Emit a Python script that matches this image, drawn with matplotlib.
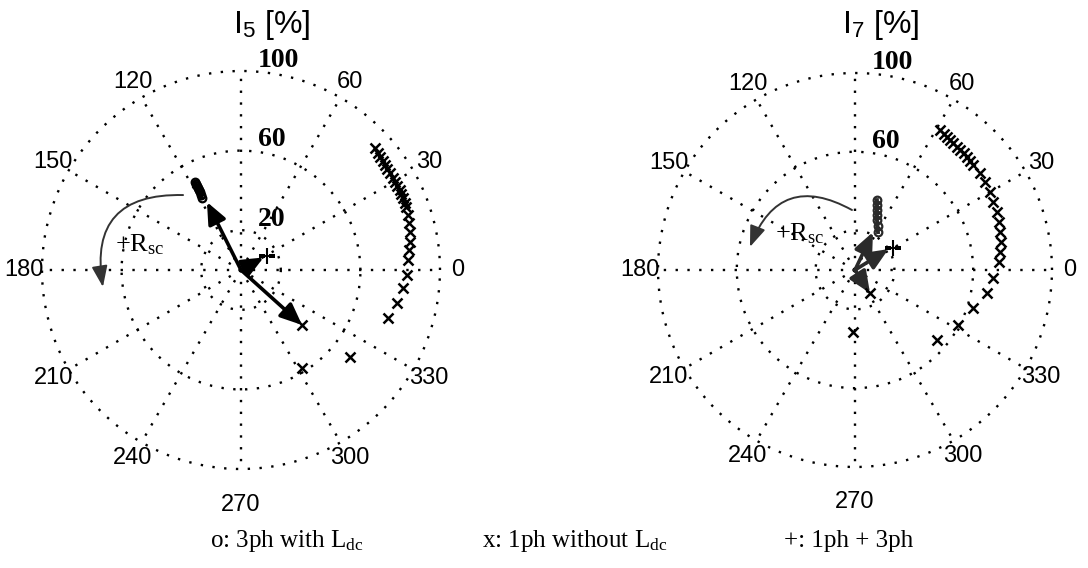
import numpy as np
import matplotlib

matplotlib.use("Agg")
import matplotlib.pyplot as plt

plt.rcParams["mathtext.fontset"] = "custom"
plt.rcParams["mathtext.rm"] = "Liberation Serif"
plt.rcParams["mathtext.sf"] = "Liberation Sans"
plt.rcParams["mathtext.it"] = "Liberation Serif:italic"

# angles in degrees, magnitudes in %
ANGLE_TICKS = [0, 30, 60, 120, 150, 180, 210, 240, 270, 300, 330]
RADIAL_TICKS = [20, 60, 100]

# ---- I5 ----
i5_x_theta = [42.3, 40.6, 39.1, 37.6, 36.1, 34.6, 33.1, 31.4, 29.7, 28.2, 26.7, 25.3, 24.0,
              22.4, 20.9, 18.2, 15.6, 12.7, 9.4, 6.8, 3.4, -1.7, -6.3, -11.9, -18.1, -38.6, -58.1]
i5_x_r = [91.1, 90.5, 90.0, 89.8, 89.6, 89.4, 89.3, 89.2, 89.1, 89.2, 89.4, 89.2, 89.1,
          88.9, 88.7, 88.3, 87.7, 87.0, 86.1, 85.0, 84.1, 83.4, 81.9, 80.1, 77.7, 70.1, 58.0]
i5_o_theta = [117.6, 117.7, 117.8, 117.9, 118.0, 118.1, 118.2, 118.4]
i5_o_r = [50.0, 48.8, 47.6, 46.5, 45.4, 44.2, 42.8, 41.2]
i5_ref_x = (-42.0, 41.3)    # 1ph without Ldc
i5_ref_o = (116.6, 38.2)    # 3ph with Ldc
i5_ref_plus = (28.3, 14.8)  # 1ph + 3ph

# ---- I7 ----
i7_x_theta = [58.7, 57.0, 55.3, 53.8, 52.3, 50.5, 48.8, 47.0, 45.3, 43.5, 41.7, 37.8, 34.1,
              30.0, 26.2, 22.2, 18.4, 14.7, 10.9, 7.1, 3.2, -3.3, -9.9, -17.9, -28.1, -40.5, -91.8]
i7_x_r = [83.1, 82.6, 82.1, 81.7, 81.4, 81.2, 81.0, 80.9, 80.8, 80.5, 80.2, 80.3, 79.7,
          79.1, 78.1, 77.9, 77.1, 76.1, 75.5, 74.2, 73.2, 70.2, 68.0, 62.9, 59.3, 54.7, 31.5]
i7_o_theta = [72.6, 71.3, 69.9, 68.2, 66.3, 62.8, 58.8]
i7_o_r = [37.2, 34.8, 32.4, 30.0, 27.7, 25.0, 22.5]
i7_ref_x = (-57.0, 14.0)
i7_ref_o = (64.6, 21.3)
i7_ref_plus = (30.0, 22.3)

DOTTED = (0, (1, 4))
SANS = "Liberation Sans"
SERIF = "Liberation Serif"


def rad(d):
    return np.deg2rad(d)


def setup(ax):
    ax.set_theta_zero_location("E")
    ax.set_ylim(0, 100)
    ax.set_yticks(RADIAL_TICKS)
    ax.set_xticks(rad(np.arange(0, 360, 30)))
    ax.set_xticklabels([])
    ax.set_yticklabels([])
    ax.tick_params(length=0)
    ax.grid(True, color="black", linestyle=DOTTED, linewidth=1.7)
    ax.spines["polar"].set_visible(False)
    ax.set_axisbelow(True)
    for gl in ax.yaxis.get_gridlines() + ax.xaxis.get_gridlines():
        gl.set_clip_on(False)
    for a in ANGLE_TICKS:
        rr = 118 if a == 270 else 109
        ax.text(rad(a), rr, str(a), ha="center", va="center",
                family=SANS, fontsize=17)


def radial_labels(ax, ticks):
    for t in ticks:
        ax.annotate(str(t), xy=(rad(90), t), xytext=(12, 3), textcoords="offset points",
                    ha="left", va="baseline", family=SERIF, fontweight="bold",
                    fontsize=20, annotation_clip=False)


def phasor(ax, ref, color):
    ax.annotate("", xy=(rad(ref[0]), ref[1]), xytext=(0, 0),
                arrowprops=dict(arrowstyle="-|>,head_length=0.65,head_width=0.28",
                                lw=2.6, color=color, mutation_scale=20,
                                shrinkA=0, shrinkB=0))


def rsc_arrow(ax, start, end, bend, label_pos, color):
    ax.annotate("", xy=(rad(end[0]), end[1]), xytext=(rad(start[0]), start[1]),
                arrowprops=dict(arrowstyle="-|>,head_length=0.8,head_width=0.3",
                                lw=1.4, color=color, mutation_scale=16,
                                shrinkA=0, shrinkB=0,
                                connectionstyle=f"arc3,rad={bend}"))
    ax.text(rad(label_pos[0]), label_pos[1], r"+R$_\mathrm{sc}$", ha="center",
            va="center", family=SERIF, fontsize=19)


def panel(ax, x_th, x_r, o_th, o_r, ref_x, ref_o, ref_plus, tip_plus, color):
    setup(ax)
    ax.plot(rad(np.array(x_th)), x_r, "x", color="black", ms=7, mew=1.8,
            linestyle="none", zorder=3)
    ax.plot(rad(ref_x[0]), ref_x[1], "x", color="black", ms=7, mew=1.8, zorder=4)
    ax.plot(rad(np.array(o_th)), o_r, "o-", color=color, ms=5.5, mfc="none", mew=1.6,
            lw=2.8, zorder=3)
    ax.plot(rad(ref_plus[0]), ref_plus[1], "+", color="black", ms=11, mew=1.5, zorder=4)
    phasor(ax, ref_o, color)
    phasor(ax, ref_x, color)
    phasor(ax, tip_plus, color)


fig = plt.figure(figsize=(10.88, 5.68), dpi=100)

ax1 = fig.add_axes([0.0386, 0.1743, 0.3658, 0.7007], projection="polar")
panel(ax1, i5_x_theta, i5_x_r, i5_o_theta, i5_o_r, i5_ref_x, i5_ref_o, i5_ref_plus,
      (29.0, 13.0), "black")
radial_labels(ax1, RADIAL_TICKS)
rsc_arrow(ax1, (127.7, 47.6), (187.0, 69.9), 0.6, (166.0, 52.3), "#333333")

ax2 = fig.add_axes([0.6048, 0.1778, 0.3621, 0.6937], projection="polar")
panel(ax2, i7_x_theta, i7_x_r, i7_o_theta, i7_o_r, i7_ref_x, i7_ref_o, i7_ref_plus,
      (32.0, 20.0), "#2a2a2a")
radial_labels(ax2, [60, 100])
rsc_arrow(ax2, (92.9, 30.5), (167.6, 54.6), 0.57, (146.8, 33.4), "#333333")

fig.text(272 / 1088, 1 - 33 / 568, r"I$_\mathsf{5}$ [%]", ha="center", va="baseline",
         family=SANS, fontsize=23)
fig.text(881 / 1088, 1 - 33 / 568, r"I$_\mathsf{7}$ [%]", ha="center", va="baseline",
         family=SANS, fontsize=23)

legend_y = 1 - 547 / 568
fig.text(287 / 1088, legend_y, r"o: 3ph with L$_\mathrm{dc}$", ha="center",
         va="baseline", family=SERIF, fontsize=18)
fig.text(575 / 1088, legend_y, r"x: 1ph without L$_\mathrm{dc}$", ha="center",
         va="baseline", family=SERIF, fontsize=18)
fig.text(849 / 1088, legend_y, "+: 1ph + 3ph", ha="center",
         va="baseline", family=SERIF, fontsize=18)

fig.savefig("out.png", dpi=100)
